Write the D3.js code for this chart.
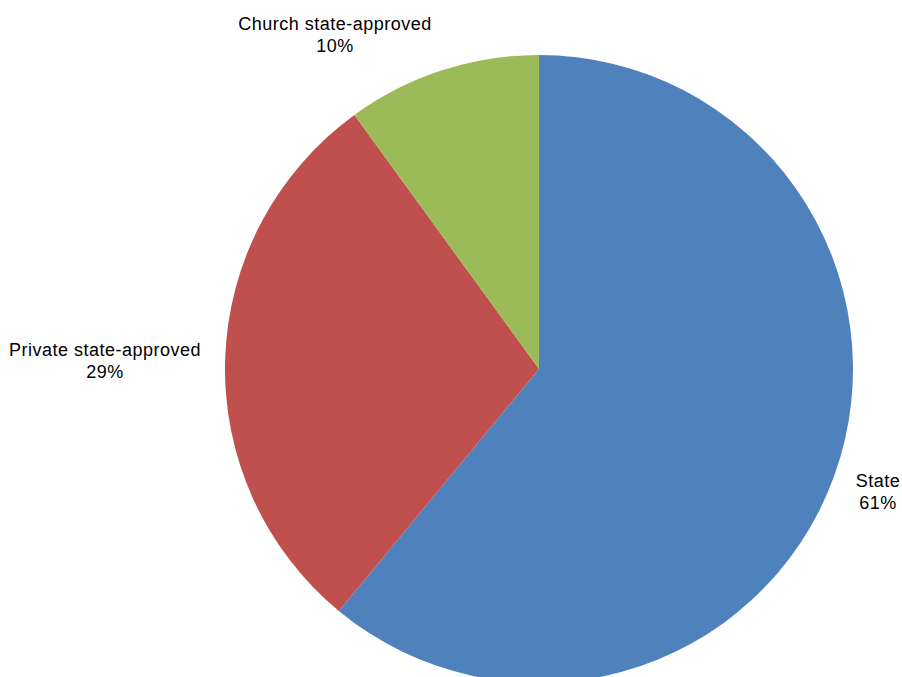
<!DOCTYPE html>
<html><head><meta charset="utf-8">
<script src="https://cdn.jsdelivr.net/npm/d3@7"></script>
<style>body{margin:0;background:#fff}svg{display:block}</style>
</head><body>
<svg id="chart" width="902" height="677"></svg>
<script>
const categories = ["State", "Private state-approved", "Church state-approved"];
const values = [61, 29, 10];
const colors = ["#4F81BD", "#C0504D", "#9BBB59"];
const labelPos = [[878, 481], [105, 350], [335, 24]];

const svg = d3.select("#chart");
const cx = 539, cy = 369, r = 314;
const pie = d3.pie().sort(null).value(d => d.v);
const data = categories.map((c, i) => ({c, v: values[i], i}));
const arcs = pie(data);
const arc = d3.arc().innerRadius(0).outerRadius(r);
const g = svg.append("g").attr("transform", `translate(${cx},${cy})`);
g.selectAll("path").data(arcs).join("path")
  .attr("d", arc).attr("fill", d => colors[d.data.i]);

const total = d3.sum(values);
const lab = svg.append("g").attr("font-family", "Liberation Sans, Arial, sans-serif")
  .attr("font-size", 18).attr("letter-spacing", "0.5px").attr("fill", "#000").attr("text-anchor", "middle");
data.forEach((d, i) => {
  const t = lab.append("text").attr("x", labelPos[i][0]).attr("y", labelPos[i][1]);
  t.append("tspan").attr("x", labelPos[i][0]).attr("dy", "0.35em").text(d.c);
  t.append("tspan").attr("x", labelPos[i][0]).attr("dy", 22).text(Math.round(d.v / total * 100) + "%");
});
</script>
</body></html>
